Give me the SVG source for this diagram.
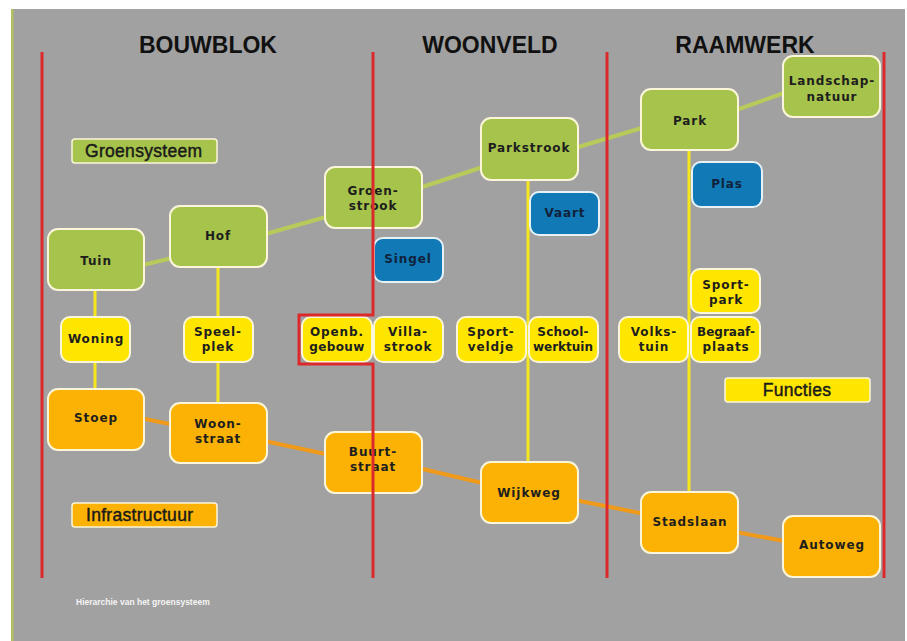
<svg xmlns="http://www.w3.org/2000/svg" width="907" height="641" viewBox="0 0 907 641">
<style>
.n rect{stroke:#fbf6da;stroke-width:2}
.g rect{fill:#a6c34c}
.b rect{fill:#1079b6;stroke:#e6f2f8}
.y rect{fill:#ffe600}
.o rect{fill:#fbb204}
.n text{font-family:"DejaVu Sans",sans-serif;font-weight:bold;font-size:12px;fill:#1e1e1e;text-anchor:middle;letter-spacing:0.9px}
.b text{fill:#10233a}
.hd{font-family:"Liberation Sans",Arial,sans-serif;font-weight:bold;font-size:23px;fill:#111;text-anchor:middle}
.lg rect{stroke:#fbf6da;stroke-width:1.5}
.lg text{font-family:"Liberation Sans",Arial,sans-serif;font-size:17.5px;fill:#1a1a1a;stroke:#1a1a1a;stroke-width:0.45;letter-spacing:0.3px}
.cg{stroke:#b8cb5a;stroke-width:4;fill:none}
.co{stroke:#f09a1c;stroke-width:4;fill:none}
.cy{stroke:#f6e61e;stroke-width:3;fill:none}
.red{stroke:#dc2a2c;stroke-width:3;fill:none}
</style>
<rect x="0" y="0" width="907" height="641" fill="#ffffff"/>
<rect x="11" y="9" width="894" height="632" fill="#a1a1a1"/>
<rect x="11" y="9" width="2.5" height="632" fill="#b4bf5e"/>

<text class="hd" x="208" y="53">BOUWBLOK</text>
<text class="hd" x="490" y="53">WOONVELD</text>
<text class="hd" x="745" y="53">RAAMWERK</text>

<g id="connectors">
<line class="cy" x1="95" y1="285" x2="95" y2="392"/>
<line class="cy" x1="218" y1="262" x2="218" y2="407"/>
<line class="cy" x1="528" y1="175" x2="528" y2="465"/>
<line class="cy" x1="689" y1="145" x2="689" y2="496"/>
<line class="cg" x1="130" y1="268" x2="185" y2="255"/>
<line class="cg" x1="255" y1="237" x2="340" y2="213"/>
<line class="cg" x1="410" y1="191" x2="495" y2="163"/>
<line class="cg" x1="565" y1="151" x2="655" y2="124"/>
<line class="cg" x1="725" y1="114" x2="795" y2="89"/>
<line class="co" x1="130" y1="416" x2="185" y2="427"/>
<line class="co" x1="255" y1="439" x2="340" y2="457"/>
<line class="co" x1="410" y1="466" x2="495" y2="486"/>
<line class="co" x1="565" y1="498" x2="655" y2="516"/>
<line class="co" x1="725" y1="530" x2="795" y2="543"/>
</g>

<g id="tuin" class="n g"><rect x="48" y="229" width="96" height="61" rx="10"/><text x="96" y="265">Tuin</text></g>
<g id="hof" class="n g"><rect x="170" y="206" width="97" height="61" rx="10"/><text x="218" y="240">Hof</text></g>
<g id="groenstrook" class="n g"><rect x="325" y="167" width="97" height="61" rx="10"/><text x="373" y="195">Groen-</text><text x="373" y="210">strook</text></g>
<g id="parkstrook" class="n g"><rect x="481" y="118" width="97" height="62" rx="10"/><text x="529" y="152">Parkstrook</text></g>
<g id="park" class="n g"><rect x="641" y="89" width="97" height="61" rx="10"/><text x="690" y="125">Park</text></g>
<g id="landschap" class="n g"><rect x="783" y="56" width="97" height="61" rx="10"/><text x="832" y="85">Landschap-</text><text x="832" y="101">natuur</text></g>

<g id="singel" class="n b"><rect x="374" y="238" width="69" height="44" rx="9"/><text x="408" y="263">Singel</text></g>
<g id="vaart" class="n b"><rect x="530" y="192" width="69" height="43" rx="9"/><text x="565" y="217">Vaart</text></g>
<g id="plas" class="n b"><rect x="692" y="162" width="70" height="45" rx="9"/><text x="727" y="188">Plas</text></g>

<g id="woning" class="n y"><rect x="61" y="317" width="69" height="45" rx="9"/><text x="96" y="343">Woning</text></g>
<g id="speelplek" class="n y"><rect x="184" y="317" width="69" height="45" rx="9"/><text x="218" y="336">Speel-</text><text x="218" y="351">plek</text></g>
<g id="openb" class="n y"><rect x="302" y="317" width="70" height="45" rx="9"/><text x="337" y="336">Openb.</text><text x="337" y="351" style="letter-spacing:0.4px">gebouw</text></g>
<g id="villa" class="n y"><rect x="374" y="317" width="69" height="45" rx="9"/><text x="408" y="336">Villa-</text><text x="408" y="351">strook</text></g>
<g id="sportveldje" class="n y"><rect x="457" y="317" width="69" height="45" rx="9"/><text x="491" y="336">Sport-</text><text x="491" y="351">veldje</text></g>
<g id="schoolwerktuin" class="n y"><rect x="529" y="317" width="69" height="45" rx="9"/><text x="563" y="336" style="letter-spacing:0.2px">School-</text><text x="563" y="351" style="letter-spacing:0">werktuin</text></g>
<g id="volkstuin" class="n y"><rect x="619" y="317" width="69" height="45" rx="9"/><text x="654" y="336">Volks-</text><text x="654" y="351">tuin</text></g>
<g id="sportpark" class="n y"><rect x="691" y="269" width="69" height="44" rx="9"/><text x="726" y="289">Sport-</text><text x="726" y="304">park</text></g>
<g id="begraafplaats" class="n y"><rect x="691" y="317" width="69" height="45" rx="9"/><text x="726" y="336" style="letter-spacing:0">Begraaf-</text><text x="726" y="351">plaats</text></g>

<g id="stoep" class="n o"><rect x="48" y="389" width="96" height="61" rx="10"/><text x="96" y="422">Stoep</text></g>
<g id="woonstraat" class="n o"><rect x="170" y="403" width="97" height="60" rx="10"/><text x="218" y="428">Woon-</text><text x="218" y="443">straat</text></g>
<g id="buurtstraat" class="n o"><rect x="325" y="432" width="97" height="61" rx="10"/><text x="373" y="456">Buurt-</text><text x="373" y="471">straat</text></g>
<g id="wijkweg" class="n o"><rect x="481" y="462" width="97" height="61" rx="10"/><text x="529" y="497">Wijkweg</text></g>
<g id="stadslaan" class="n o"><rect x="641" y="492" width="97" height="61" rx="10"/><text x="690" y="526">Stadslaan</text></g>
<g id="autoweg" class="n o"><rect x="783" y="516" width="97" height="61" rx="10"/><text x="832" y="549">Autoweg</text></g>

<g id="legend-groen" class="lg"><rect x="72" y="139" width="145" height="24" rx="3" fill="#a6c34c"/><text x="85" y="157">Groensysteem</text></g>
<g id="legend-infra" class="lg"><rect x="72" y="503" width="145" height="24" rx="3" fill="#fbb204"/><text x="86" y="521">Infrastructuur</text></g>
<g id="legend-functies" class="lg"><rect x="725" y="378" width="145" height="24" rx="3" fill="#ffe600"/><text x="797" y="396" text-anchor="middle">Functies</text></g>

<g id="zones">
<line class="red" x1="42" y1="52" x2="42" y2="578"/>
<polyline class="red" points="373,52 373,315 299,315 299,364 373,364 373,578"/>
<line class="red" x1="607" y1="52" x2="607" y2="578"/>
<line class="red" x1="884" y1="52" x2="884" y2="578"/>
</g>

<text x="76" y="605" font-family="Liberation Sans, Arial, sans-serif" font-weight="bold" font-size="8.5" fill="#f4f4f4">Hierarchie van het groensysteem</text>
</svg>
